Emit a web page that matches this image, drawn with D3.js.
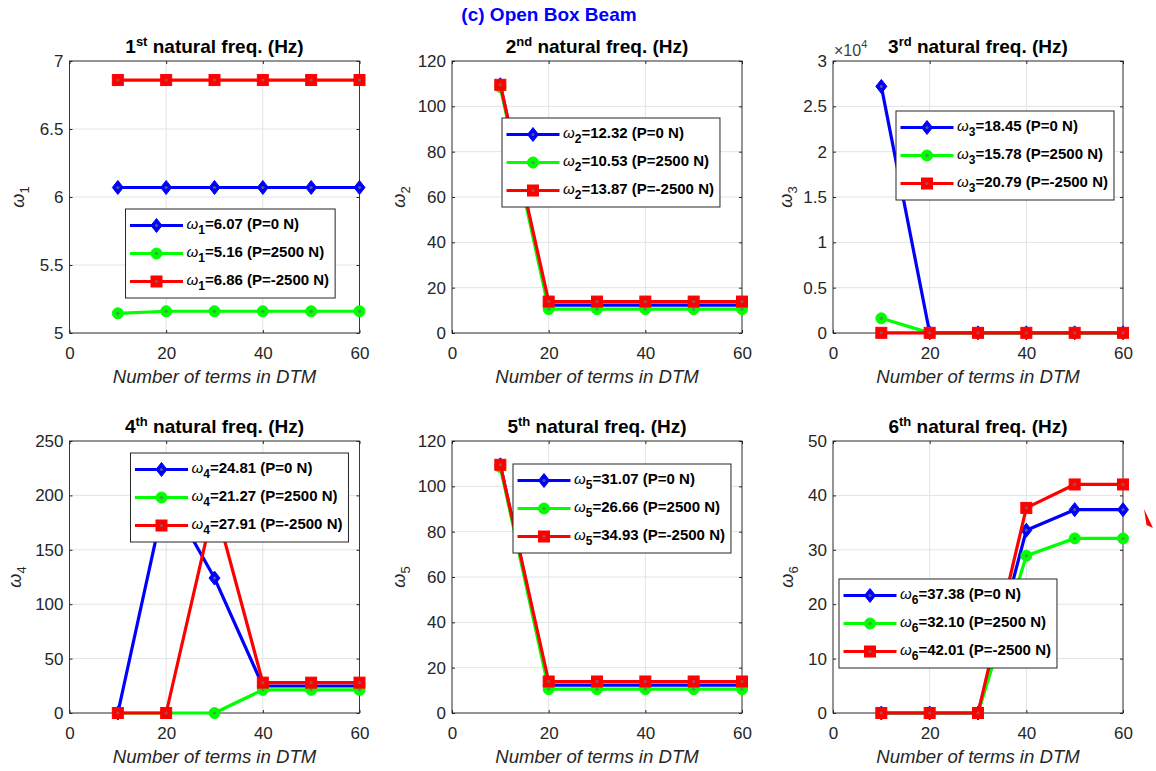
<!DOCTYPE html>
<html>
<head>
<meta charset="utf-8">
<script src="https://cdn.jsdelivr.net/npm/d3@7"></script>
<style>
  body { margin: 0; background: #fff; }
  svg { font-family: "Liberation Sans", Arial, Helvetica, sans-serif; }
</style>
</head>
<body>
<svg id="fig" width="1156" height="771"></svg>
<script>
// number of DTM terms on the x axis
const terms = [10, 20, 30, 40, 50, 60]
const xTicks = [0, 20, 40, 60]

// natural frequencies, one array per mode and axial load
const w1_P0    = [6.07, 6.07, 6.07, 6.07, 6.07, 6.07]
const w1_P2500 = [5.145, 5.16, 5.16, 5.16, 5.16, 5.16]
const w1_Pm    = [6.86, 6.86, 6.86, 6.86, 6.86, 6.86]

const w2_P0    = [109.5, 12.32, 12.32, 12.32, 12.32, 12.32]
const w2_P2500 = [108.5, 10.53, 10.53, 10.53, 10.53, 10.53]
const w2_Pm    = [109.5, 13.87, 13.87, 13.87, 13.87, 13.87]

const w3_P0    = [27200, 18.45, 18.45, 18.45, 18.45, 18.45]
const w3_P2500 = [1620, 15.78, 15.78, 15.78, 15.78, 15.78]
const w3_Pm    = [20, 20.79, 20.79, 20.79, 20.79, 20.79]

const w4_P0    = [0, 203, 124, 24.81, 24.81, 24.81]
const w4_P2500 = [0, 0, 0, 21.27, 21.27, 21.27]
const w4_Pm    = [0, 0, 193, 27.91, 27.91, 27.91]

const w5_P0    = [109.5, 12.3, 12.3, 12.3, 12.3, 12.3]
const w5_P2500 = [108.5, 10.5, 10.5, 10.5, 10.5, 10.5]
const w5_Pm    = [109.5, 13.9, 13.9, 13.9, 13.9, 13.9]

const w6_P0    = [0, 0, 0, 33.6, 37.38, 37.38]
const w6_P2500 = [0, 0, 0, 28.9, 32.10, 32.10]
const w6_Pm    = [0, 0, 0, 37.7, 42.01, 42.01]

// legend values and load cases
const loadLabels = ["P=0 N", "P=2500 N", "P=-2500 N"]
const legendVals = [
  ["6.07", "5.16", "6.86"],
  ["12.32", "10.53", "13.87"],
  ["18.45", "15.78", "20.79"],
  ["24.81", "21.27", "27.91"],
  ["31.07", "26.66", "34.93"],
  ["37.38", "32.10", "42.01"]
]
const ordinals = ["st", "nd", "rd", "th", "th", "th"]
const yDomains = [[5, 7], [0, 120], [0, 30000], [0, 250], [0, 120], [0, 50]]
const yStep = [0.5, 20, 5000, 50, 20, 10]

const colors = ["#0000ff", "#00ff00", "#ff0000"]
const markers = ["diamond", "circle", "square"]

const panels = [
  [w1_P0, w1_P2500, w1_Pm],
  [w2_P0, w2_P2500, w2_Pm],
  [w3_P0, w3_P2500, w3_Pm],
  [w4_P0, w4_P2500, w4_Pm],
  [w5_P0, w5_P2500, w5_Pm],
  [w6_P0, w6_P2500, w6_Pm]
]

// layout
const colX = [69.5, 452, 833], rowY = [61, 441]
const axW = 290, axH = 272
const legPos = [[56, 148], [50, 57], [63, 50], [61, 12], [61, 23], [6, 138]]
const yLabOff = [-46, -47, -41, -49, -47, -40]
const ink = "#262626"

const svg = d3.select("#fig")

// draw a marker of a given kind
function addMarker(sel, kind, color) {
  if (kind == "diamond")
    sel.append("path").attr("d", "M0,-7L5.5,0L0,7L-5.5,0Z")
  else if (kind == "circle")
    sel.append("circle").attr("r", 5.5)
  else
    sel.append("rect").attr("x", -5.5).attr("y", -5.5).attr("width", 11).attr("height", 11)
  sel.selectAll("path,circle,rect").attr("fill", color).attr("stroke", color).attr("stroke-width", 1)
  sel.append("circle").attr("r", 1.6).attr("fill", "#707070").attr("opacity", 0.75)
}

function drawPanel(i) {
  const data = panels[i]
  const g = svg.append("g")
    .attr("transform", `translate(${colX[i % 3]},${rowY[Math.floor(i / 3)]})`)

  const x = d3.scaleLinear().domain([0, 60]).range([0, axW])
  const y = d3.scaleLinear().domain(yDomains[i]).range([axH, 0])
  const yTicks = d3.range(yDomains[i][0], yDomains[i][1] + 1e-9, yStep[i])

  // grid
  g.append("g").selectAll("line").data(xTicks).enter().append("line")
    .attr("x1", d => x(d)).attr("x2", d => x(d)).attr("y1", 0).attr("y2", axH)
    .attr("stroke", "#e3e3e3")
  g.append("g").selectAll("line").data(yTicks).enter().append("line")
    .attr("y1", d => y(d)).attr("y2", d => y(d)).attr("x1", 0).attr("x2", axW)
    .attr("stroke", "#e3e3e3")

  // axes (ticks inside, mirrored)
  const fmt = i == 2 ? (d => +(d / 1e4).toFixed(2)) : (d => +d.toFixed(2))
  g.append("g").attr("transform", `translate(0,${axH})`)
    .call(d3.axisBottom(x).tickValues(xTicks).tickSizeInner(-3).tickSizeOuter(0).tickPadding(14))
  g.append("g")
    .call(d3.axisLeft(y).tickValues(yTicks).tickFormat(fmt).tickSizeInner(-3).tickSizeOuter(0).tickPadding(6))
  g.append("g").call(d3.axisTop(x).tickValues(xTicks).tickSizeInner(-3).tickSizeOuter(0).tickFormat(""))
  g.append("g").attr("transform", `translate(${axW},0)`)
    .call(d3.axisRight(y).tickValues(yTicks).tickSizeInner(-3).tickSizeOuter(0).tickFormat(""))
  g.selectAll(".domain").remove()
  g.selectAll(".tick line").attr("stroke", ink)
  g.selectAll(".tick text").attr("fill", ink).style("font-size", "17px")

  g.append("rect").attr("width", axW).attr("height", axH)
    .attr("fill", "none").attr("stroke", ink).attr("stroke-width", 0.9)

  if (i == 2) {
    const e = g.append("text").attr("x", 1).attr("y", -5).attr("fill", "#404040").style("font-size", "16px")
    e.append("tspan").text("\u00d710")
    e.append("tspan").attr("dy", -8).style("font-size", "11px").text("4")
  }

  // series
  const line = d3.line().x((d, j) => x(terms[j])).y(d => y(d))
  data.forEach(function (vals, s) {
    g.append("path").datum(vals).attr("d", line)
      .attr("fill", "none").attr("stroke", colors[s]).attr("stroke-width", 3.2)
      .attr("stroke-linejoin", "round")
    g.append("g").selectAll("g").data(vals).enter().append("g")
      .attr("transform", (d, j) => `translate(${x(terms[j])},${y(d)})`)
      .each(function () { addMarker(d3.select(this), markers[s], colors[s]) })
  })

  // title
  const t = g.append("text").attr("x", axW / 2).attr("y", -8).attr("text-anchor", "middle")
    .attr("fill", "#000").style("font-size", "19px").style("font-weight", "bold")
  t.append("tspan").text(i + 1)
  t.append("tspan").attr("dy", -7).style("font-size", "13px").text(ordinals[i])
  t.append("tspan").attr("dy", 7).text(" natural freq. (Hz)")

  // x label
  g.append("text").attr("x", axW / 2).attr("y", axH + 50).attr("text-anchor", "middle")
    .attr("fill", ink).style("font-size", "18.6px").style("font-style", "italic")
    .text("Number of terms in DTM")

  // y label
  const yl = g.append("text")
    .attr("transform", `translate(${yLabOff[i]},${axH / 2}) rotate(-90)`)
    .attr("text-anchor", "middle").attr("fill", ink).style("font-size", "18px")
  yl.append("tspan").style("font-style", "italic").text("\u03c9")
  yl.append("tspan").attr("dy", 5).style("font-size", "13px").text(i + 1)

  // legend
  const lg = g.append("g").attr("transform", `translate(${legPos[i][0]},${legPos[i][1]})`)
  const box = lg.append("rect").attr("height", 89).attr("fill", "#fff")
    .attr("stroke", ink).attr("stroke-width", 1)
  let maxW = 0
  loadLabels.forEach(function (lab, s) {
    const ry = 16.5 + s * 28
    lg.append("line").attr("x1", 4.5).attr("x2", 57.5).attr("y1", ry).attr("y2", ry)
      .attr("stroke", colors[s]).attr("stroke-width", 3.2)
    addMarker(lg.append("g").attr("transform", `translate(31,${ry})`), markers[s], colors[s])
    const tx = lg.append("text").attr("x", 61).attr("y", ry + 3.5).attr("fill", "#000")
      .style("font-size", "15px").style("font-weight", "bold")
    tx.append("tspan").style("font-style", "italic").style("font-weight", "normal").text("\u03c9")
    tx.append("tspan").attr("dy", 5).style("font-size", "12px").text(i + 1)
    tx.append("tspan").attr("dy", -5).text(`=${legendVals[i][s]} (${lab})`)
    maxW = Math.max(maxW, tx.node().getComputedTextLength())
  })
  box.attr("width", 61 + maxW + 6)
}

d3.range(6).forEach(drawPanel)

// figure title
svg.append("text").attr("x", 549).attr("y", 21).attr("text-anchor", "middle")
  .attr("fill", "#0000ff").style("font-size", "19px").style("font-weight", "bold")
  .text("(c) Open Box Beam")

// stray red wedge at the right edge of the figure
svg.append("path").attr("d", "M1144,509L1153,528L1146.5,525Z").attr("fill", "#ff0000")
</script>
</body>
</html>
